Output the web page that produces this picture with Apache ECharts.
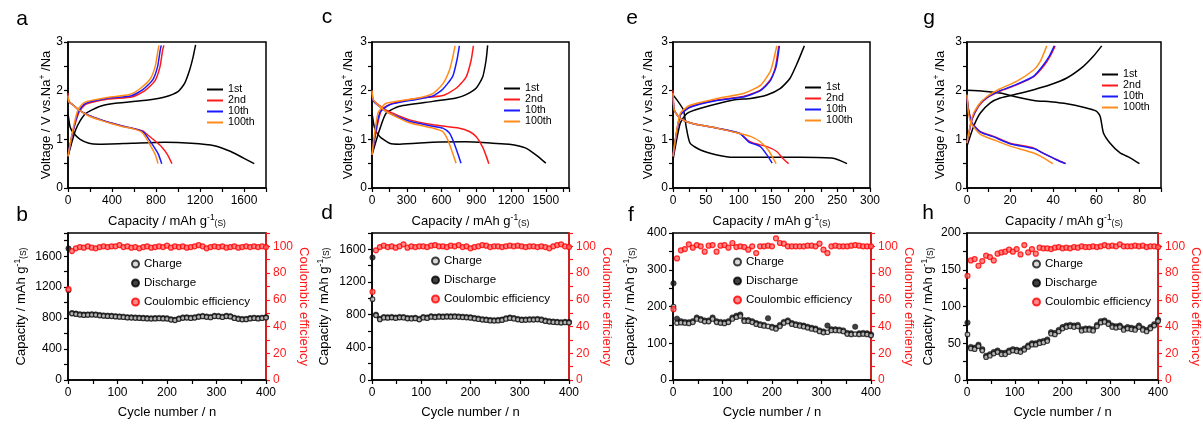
<!DOCTYPE html>
<html><head><meta charset="utf-8">
<script src="https://cdn.jsdelivr.net/npm/echarts@6/dist/echarts.min.js"></script>
<style>html,body{margin:0;padding:0;background:#fff}#c{width:1203px;height:425px}</style>
</head><body><div id="c"></div>
<script>
// ---------- Voltage profiles (capacity mAh/g, voltage V) ----------
const a1_dis = [[0,1.53],[20,1.25],[54,1.12],[110,1.0],[190,0.92],[280,0.9],[580,0.92],[880,0.94],[1120,0.92],[1330,0.87],[1480,0.75],[1600,0.61],[1693,0.5]];
const a1_chg = [[0,0.65],[30,0.9],[69,1.19],[110,1.38],[160,1.53],[280,1.67],[430,1.74],[730,1.81],[880,1.87],[1000,1.98],[1060,2.15],[1105,2.42],[1137,2.69],[1160,2.94]];
const a2_dis = [[0,1.95],[8,1.78],[50,1.7],[100,1.6],[200,1.48],[300,1.4],[400,1.33],[500,1.27],[600,1.22],[680,1.17],[720,1.1],[790,0.97],[850,0.85],[900,0.7],[945,0.5]];
const a2_chg = [[0,0.65],[40,1.1],[99,1.55],[160,1.72],[370,1.83],[580,1.87],[700,2.0],[790,2.2],[836,2.49],[860,2.83],[872,2.93]];
const a10_dis = [[0,1.9],[8,1.77],[50,1.7],[100,1.6],[200,1.48],[300,1.4],[400,1.33],[500,1.27],[600,1.22],[680,1.16],[720,1.05],[780,0.85],[820,0.7],[852,0.5]];
const a10_chg = [[0,0.65],[40,1.12],[95,1.57],[160,1.74],[370,1.85],[570,1.89],[680,2.02],[770,2.22],[815,2.5],[838,2.83],[848,2.93]];
const a100_dis = [[0,1.9],[8,1.77],[50,1.7],[100,1.6],[200,1.47],[300,1.39],[400,1.32],[500,1.26],[600,1.21],[670,1.15],[710,1.03],[760,0.83],[795,0.68],[818,0.5]];
const a100_chg = [[0,0.65],[40,1.15],[90,1.6],[150,1.76],[360,1.86],[560,1.92],[660,2.05],[750,2.25],[795,2.52],[818,2.83],[828,2.93]];

const c1_dis = [[0,1.54],[23,1.23],[66,1.06],[152,0.92],[238,0.9],[525,0.94],[812,0.95],[1041,0.92],[1184,0.9],[1328,0.82],[1414,0.68],[1500,0.51]];
const c1_chg = [[0,0.68],[66,1.2],[123,1.54],[238,1.68],[525,1.78],[726,1.85],[812,1.92],[898,2.05],[955,2.28],[984,2.62],[998,2.93]];
const c2_dis = [[0,2.0],[14,1.8],[123,1.6],[324,1.4],[525,1.3],[754,1.23],[840,1.16],[898,1.06],[955,0.84],[985,0.66],[1008,0.5]];
const c2_chg = [[0,0.68],[80,1.6],[180,1.74],[381,1.84],[611,1.9],[726,2.05],[812,2.28],[855,2.62],[875,2.92]];
const c10_dis = [[0,1.88],[14,1.78],[123,1.57],[324,1.37],[525,1.27],[611,1.23],[668,1.13],[697,0.99],[740,0.71],[768,0.51]];
const c10_chg = [[0,0.68],[66,1.54],[152,1.71],[381,1.82],[525,1.89],[611,2.03],[697,2.3],[734,2.64],[754,2.92]];
const c100_dis = [[0,2.0],[14,1.8],[123,1.57],[324,1.34],[525,1.23],[611,1.16],[654,0.99],[697,0.71],[725,0.51]];
const c100_chg = [[0,0.68],[52,1.54],[123,1.74],[381,1.84],[525,1.94],[611,2.14],[668,2.42],[697,2.69],[717,2.92]];

const e1_dis = [[0,1.91],[6,1.81],[16,1.6],[20,1.26],[26,0.92],[42,0.78],[67,0.68],[92,0.63],[143,0.63],[194,0.63],[244,0.61],[265,0.5]];
const e1_chg = [[0,0.58],[11,1.33],[21,1.53],[42,1.64],[92,1.81],[118,1.84],[143,1.91],[163,2.04],[178,2.25],[189,2.56],[200,2.92]];
const e2_dis = [[0,2.01],[2,1.6],[11,1.43],[31,1.32],[67,1.23],[102,1.12],[113,0.99],[123,0.92],[143,0.85],[158,0.75],[167,0.61],[176,0.5]];
const e2_chg = [[0,0.65],[11,1.5],[26,1.67],[67,1.81],[107,1.88],[133,2.01],[148,2.22],[156,2.49],[161,2.92]];
const e10_dis = [[0,1.9],[2,1.6],[11,1.43],[31,1.32],[67,1.23],[102,1.12],[115,0.95],[133,0.85],[143,0.68],[151,0.51]];
const e10_chg = [[0,0.65],[11,1.49],[26,1.66],[67,1.8],[107,1.87],[133,2.0],[148,2.2],[157,2.49],[162,2.92]];
const e100_dis = [[0,1.95],[2,1.6],[11,1.43],[31,1.32],[67,1.23],[102,1.12],[118,1.06],[133,0.95],[145,0.78],[157,0.5]];
const e100_chg = [[0,0.65],[11,1.53],[26,1.7],[67,1.84],[107,1.94],[133,2.11],[148,2.39],[153,2.62],[158,2.92]];

const g1_dis = [[0,2.01],[7.7,1.99],[15.4,1.95],[23,1.87],[31,1.8],[38.6,1.77],[46.3,1.73],[54,1.66],[60,1.58],[61.8,1.47],[63.3,1.13],[66.4,0.92],[71,0.72],[75.7,0.62],[80,0.5]];
const g1_chg = [[0,0.86],[3.1,1.27],[6.2,1.54],[10.8,1.75],[15.4,1.85],[23,1.93],[31,2.02],[38.6,2.12],[46.3,2.26],[54,2.5],[58.7,2.71],[62.5,2.92]];
const g2_dis = [[0,1.88],[0.8,1.6],[2.3,1.34],[6.2,1.16],[12.4,1.06],[20,0.92],[31,0.82],[35.5,0.71],[41.7,0.58],[45.9,0.5]];
const g2_chg = [[0,0.92],[2.3,1.4],[5.4,1.68],[9.3,1.85],[15.4,1.99],[23,2.12],[31,2.29],[35.5,2.5],[38.6,2.71],[40.9,2.92]];
const g10_dis = [[0,1.85],[0.8,1.58],[2.3,1.33],[6.2,1.15],[12.4,1.05],[20,0.91],[31,0.81],[35.5,0.71],[41.5,0.58],[45.6,0.5]];
const g10_chg = [[0,0.92],[2.3,1.42],[5.4,1.7],[9.3,1.86],[15.4,2.0],[23,2.13],[31,2.3],[35,2.5],[38.2,2.71],[40.5,2.92]];
const g100_dis = [[0,1.92],[0.8,1.5],[2.3,1.3],[6.2,1.1],[12.4,0.99],[20,0.86],[31,0.72],[35.5,0.62],[39.8,0.5]];
const g100_chg = [[0,0.92],[2.3,1.45],[5.4,1.71],[9.3,1.88],[15.4,2.04],[23,2.19],[31,2.43],[34,2.6],[37,2.92]];

// ---------- Cycling data ----------
const cycles = [1,8,16,24,32,40,48,56,64,72,80,88,96,104,112,120,128,136,144,152,160,168,176,184,192,200,208,216,224,232,240,248,256,264,272,280,288,296,304,312,320,328,336,344,352,360,368,376,384,392,400];

const b_dis = [1700,865,858,850,845,848,850,848,840,835,832,830,825,822,818,812,810,808,806,803,800,798,800,802,800,798,785,778,795,808,810,805,810,822,828,820,815,830,828,818,830,825,805,795,788,790,800,805,800,805,812];
const b_chg = [1160,858,851,843,838,841,843,841,833,828,825,823,818,815,811,805,803,801,799,796,793,791,793,795,793,791,778,771,788,801,803,798,803,815,821,813,808,823,821,811,823,818,798,788,781,783,793,798,793,798,805];
const b_ce = [68,96.5,98.5,99.5,99,100,99,98.5,99.5,100,99.5,100,100,101,99.5,100,99,99.5,98.5,99.5,100,99,99.5,100,99.5,100.5,99,100,99.5,100,99,99.5,100,101,100,98.5,99.5,100,99.5,100,99,99.5,100,99,99.5,100,99.5,100,99.5,100,99.5];

const d_dis = [1500,800,750,770,768,772,765,772,770,760,758,762,748,770,765,780,775,780,778,782,780,782,778,775,772,768,760,752,745,740,735,732,735,740,755,765,758,748,740,742,745,745,748,742,728,720,715,712,708,712,710];
const d_chg = [990,792,742,762,760,764,757,764,762,752,750,754,740,762,757,772,767,772,770,774,772,774,770,767,764,760,752,744,737,732,727,724,727,732,747,757,750,740,732,734,737,737,740,734,720,712,707,704,700,704,702];
const d_ce = [66,97,99.5,100.5,99.5,100,99,100,101.5,99,100,99.5,100,100,99.5,100.5,101,100,100,99.5,100.5,100,101,99.5,100,98.5,99.5,100,101,100.5,99.5,100,100,99.5,100,100.5,100,100.5,100,99.5,100,100,99.5,100,99.5,98.5,100,101,101.5,100,99.5];

const f_dis = [263,167,160,158,157,160,170,166,162,162,170,160,158,157,160,170,175,178,163,163,160,155,152,150,168,145,142,150,158,162,155,152,150,148,145,142,140,135,132,148,138,138,137,135,128,127,145,127,128,127,124];
const f_chg = [200,155,156,155,154,157,166,163,159,159,166,157,155,154,157,166,171,174,160,160,157,152,149,147,146,142,139,146,155,159,152,149,147,145,142,139,137,132,129,130,135,135,134,132,125,124,125,124,125,124,121];
const f_ce = [53,91,97,98,101.5,99,101,100,96,100.5,101,96,100.5,101,99,102.5,99.5,100,99.5,97.5,100,95,100,100,100.5,100,106,102.5,102,100,100,100,100,100,100.5,100.5,100,102,97.5,95,100,100.5,100,100,100,100.5,101,100.5,100,100,100];

const h_dis = [78,45,44,48,42,33,35,38,40,37,37,40,42,41,40,43,47,50,50,52,53,55,65,64,68,72,74,75,74,75,69,70,70,69,75,80,81,78,74,73,74,70,72,71,70,74,70,68,72,76,82];
const h_chg = [62,43,42,46,40,31,33,36,38,35,35,38,40,39,38,41,45,48,48,50,51,53,63,62,66,70,72,73,72,73,67,68,68,67,73,78,79,76,72,71,72,68,70,69,68,72,68,66,70,74,80];
const h_ce = [78,89.5,90.5,85.5,89,93,92,89.5,94.5,95.5,96,97.5,96,98,94,101,95.5,98,94.5,99,98.5,98.5,98,99,99.5,98.5,99,98.5,99.5,99,100,99.5,99.5,100,99.5,100,101,100,100.5,100,101.5,100,100,100,100.5,100,100.5,99.5,100,100,99.5];

const cycleNames = ['1st','2nd','10th','100th'];
const cycNames2 = ['Charge','Discharge','Coulombic efficiency'];
const panelLetters = ['a','b','c','d','e','f','g','h'];

// ---------- layout ----------
const FONT = '"Liberation Sans", Arial, sans-serif';
const lineColors = ['#000000','#ff1a1a','#1a1aff','#ff8c1a'];
const topPanels = [
  {curves:[[a1_dis,a1_chg],[a2_dis,a2_chg],[a10_dis,a10_chg],[a100_dis,a100_chg]], xmax:1800, xint:200, xlab:400, xlabMax:1600, left:68, width:198, gapY:14, lgLeft:207, lgTop:84},
  {curves:[[c1_dis,c1_chg],[c2_dis,c2_chg],[c10_dis,c10_chg],[c100_dis,c100_chg]], xmax:1700, xint:150, xlab:300, xlabMax:1500, left:372, width:197, gapY:16, lgLeft:504, lgTop:83},
  {curves:[[e1_dis,e1_chg],[e2_dis,e2_chg],[e10_dis,e10_chg],[e100_dis,e100_chg]], xmax:300, xint:25, xlab:50, xlabMax:300, left:673, width:197, gapY:17, lgLeft:805, lgTop:82},
  {curves:[[g1_dis,g1_chg],[g2_dis,g2_chg],[g10_dis,g10_chg],[g100_dis,g100_chg]], xmax:90, xint:10, xlab:20, xlabMax:80, left:967, width:194, gapY:19, lgLeft:1102, lgTop:69}
];
const botPanels = [
  {dis:b_dis, chg:b_chg, ce:b_ce, ymax:1900, yint:200, ylab:400, ylabMax:1600, left:68, width:198, gapL:39, gapR:28, lgLeft:131, lgTop:258},
  {dis:d_dis, chg:d_chg, ce:d_ce, ymax:1800, yint:200, ylab:400, ylabMax:1600, left:372, width:197, gapL:40, gapR:30, lgLeft:431, lgTop:255},
  {dis:f_dis, chg:f_chg, ce:f_ce, ymax:400, yint:50, ylab:100, ylabMax:400, left:673, width:198, gapL:35, gapR:30, lgLeft:733, lgTop:256},
  {dis:h_dis, chg:h_chg, ce:h_ce, ymax:200, yint:25, ylab:50, ylabMax:200, left:967, width:194, gapL:31, gapR:29, lgLeft:1032, lgTop:258}
];

function nameStyle(color){
  return {fontSize:13, fontFamily:FONT, color:color, rich:{
    sup:{fontSize:8.5, fontFamily:FONT, color:color, padding:[0,0,7,0]},
    sub:{fontSize:8.5, fontFamily:FONT, color:color, padding:[6,0,0,0]}}};
}
const capName = 'Capacity / mAh g{sup|-1}{sub|(S)}';
const voltName = 'Voltage / V vs.Na{sup|+} /Na';

function axisBase(color){
  return {
    type:'value', splitLine:{show:false},
    axisLine:{show:true, onZero:false, lineStyle:{color:color, width:1.5}},
    axisTick:{show:true, inside:false, length:4, lineStyle:{color:color, width:1.2}},
  };
}
function labelFmt(step, maxv){
  return function(v){ const r = Math.round(v*1000)/1000; return (Math.abs(r/step - Math.round(r/step))<1e-9 && r <= maxv + 1e-9) ? String(r) : ''; };
}

const grid = [], xAxis = [], yAxis = [], series = [], legend = [], graphic = [];

topPanels.forEach((p, i) => {
  grid.push({left:p.left, top:42, width:p.width, height:146, show:true, borderColor:'#000', borderWidth:1.5, containLabel:false});
  xAxis.push(Object.assign(axisBase('#000'), {
    gridIndex:i, min:0, max:p.xmax, interval:p.xint,
    axisLabel:{fontSize:12, fontFamily:FONT, color:'#000', margin:7, showMaxLabel:true, formatter:labelFmt(p.xlab, p.xlabMax)},
    name:capName, nameLocation:'middle', nameGap:25, nameTextStyle:nameStyle('#000')
  }));
  yAxis.push(Object.assign(axisBase('#000'), {
    gridIndex:i, min:0, max:3, interval:0.5,
    axisLabel:{fontSize:12, fontFamily:FONT, color:'#000', margin:5, formatter:labelFmt(1, 3)},
    name:voltName, nameLocation:'middle', nameGap:p.gapY, nameRotate:90, nameTextStyle:nameStyle('#000')
  }));
  p.curves.forEach((pair, k) => {
    pair.forEach(arr => {
      series.push({type:'line', name:cycleNames[k], xAxisIndex:i, yAxisIndex:i, data:arr,
        symbol:'none', smooth:0.2, lineStyle:{color:lineColors[k], width:1.5}, itemStyle:{color:lineColors[k]}, z:2+k});
    });
  });
  legend.push({data:cycleNames, orient:'vertical', left:p.lgLeft, top:p.lgTop, padding:0, itemGap:0,
    itemWidth:16, itemHeight:2, icon:'rect', selectedMode:false,
    textStyle:{fontSize:10.7, fontFamily:FONT, color:'#000', lineHeight:10}});
});

botPanels.forEach((p, j) => {
  const gi = 4 + j;
  grid.push({left:p.left, top:233, width:p.width, height:147, show:true, borderColor:'#000', borderWidth:1.5, containLabel:false});
  xAxis.push(Object.assign(axisBase('#000'), {
    gridIndex:gi, min:0, max:400, interval:50,
    axisLabel:{fontSize:12, fontFamily:FONT, color:'#000', margin:7, formatter:labelFmt(100, 400)},
    name:'Cycle number / n', nameLocation:'middle', nameGap:26, nameTextStyle:nameStyle('#000')
  }));
  yAxis.push(Object.assign(axisBase('#000'), {
    gridIndex:gi, min:0, max:p.ymax, interval:p.yint, position:'left',
    axisLabel:{fontSize:12, fontFamily:FONT, color:'#000', margin:6, formatter:labelFmt(p.ylab, p.ylabMax)},
    name:capName, nameLocation:'middle', nameGap:p.gapL, nameRotate:90, nameTextStyle:nameStyle('#000')
  }));
});
botPanels.forEach((p, j) => {
  const gi = 4 + j;
  yAxis.push(Object.assign(axisBase('#ff1a1a'), {
    gridIndex:gi, min:0, max:110, interval:10, position:'right',
    axisLabel:{fontSize:12, fontFamily:FONT, color:'#ff1a1a', margin:7, formatter:labelFmt(20, 100)},
    name:'Coulombic efficiency', nameLocation:'middle', nameGap:p.gapR, nameRotate:-90, nameTextStyle:nameStyle('#ff1a1a')
  }));
});
botPanels.forEach((p, j) => {
  const gi = 4 + j;
  series.push({type:'scatter', name:'Discharge', xAxisIndex:gi, yAxisIndex:gi,
    data:cycles.map((c, n) => [c, p.dis[n]]), symbol:'circle', symbolSize:5.5,
    itemStyle:{color:'#111', borderColor:'#000', borderWidth:0.5}, z:3});
  series.push({type:'scatter', name:'Charge', xAxisIndex:gi, yAxisIndex:gi,
    data:cycles.map((c, n) => [c, p.chg[n]]), symbol:'circle', symbolSize:4.5,
    itemStyle:{color:'#cfcfcf', borderColor:'#111', borderWidth:1.2}, z:4});
  series.push({type:'scatter', name:'Coulombic efficiency', xAxisIndex:gi, yAxisIndex:8 + j,
    data:cycles.map((c, n) => [c, p.ce[n]]), symbol:'circle', symbolSize:5,
    itemStyle:{color:'#ff6a6a', borderColor:'#ff0000', borderWidth:1.2}, z:5});
  legend.push({data:cycNames2, orient:'vertical', left:p.lgLeft, top:p.lgTop, padding:0, itemGap:7,
    itemWidth:7, itemHeight:7, icon:'circle', selectedMode:false,
    textStyle:{fontSize:11.6, fontFamily:FONT, color:'#000', lineHeight:12}});
});

const letterPos = [[22,19],[22,215],[327,17],[327,213],[632,18],[631,215],[929,18],[928,213]];
panelLetters.forEach((L, n) => {
  graphic.push({type:'text', x:letterPos[n][0], y:letterPos[n][1],
    style:{text:L, fontSize:21, fontFamily:FONT, fill:'#000', textAlign:'center', textVerticalAlign:'middle'}});
});

const chart = echarts.init(document.getElementById('c'), null, {renderer:'canvas'});
chart.setOption({animation:false, backgroundColor:'#fff', grid, xAxis, yAxis, series, legend, graphic,
  textStyle:{fontFamily:FONT}});
</script></body></html>
